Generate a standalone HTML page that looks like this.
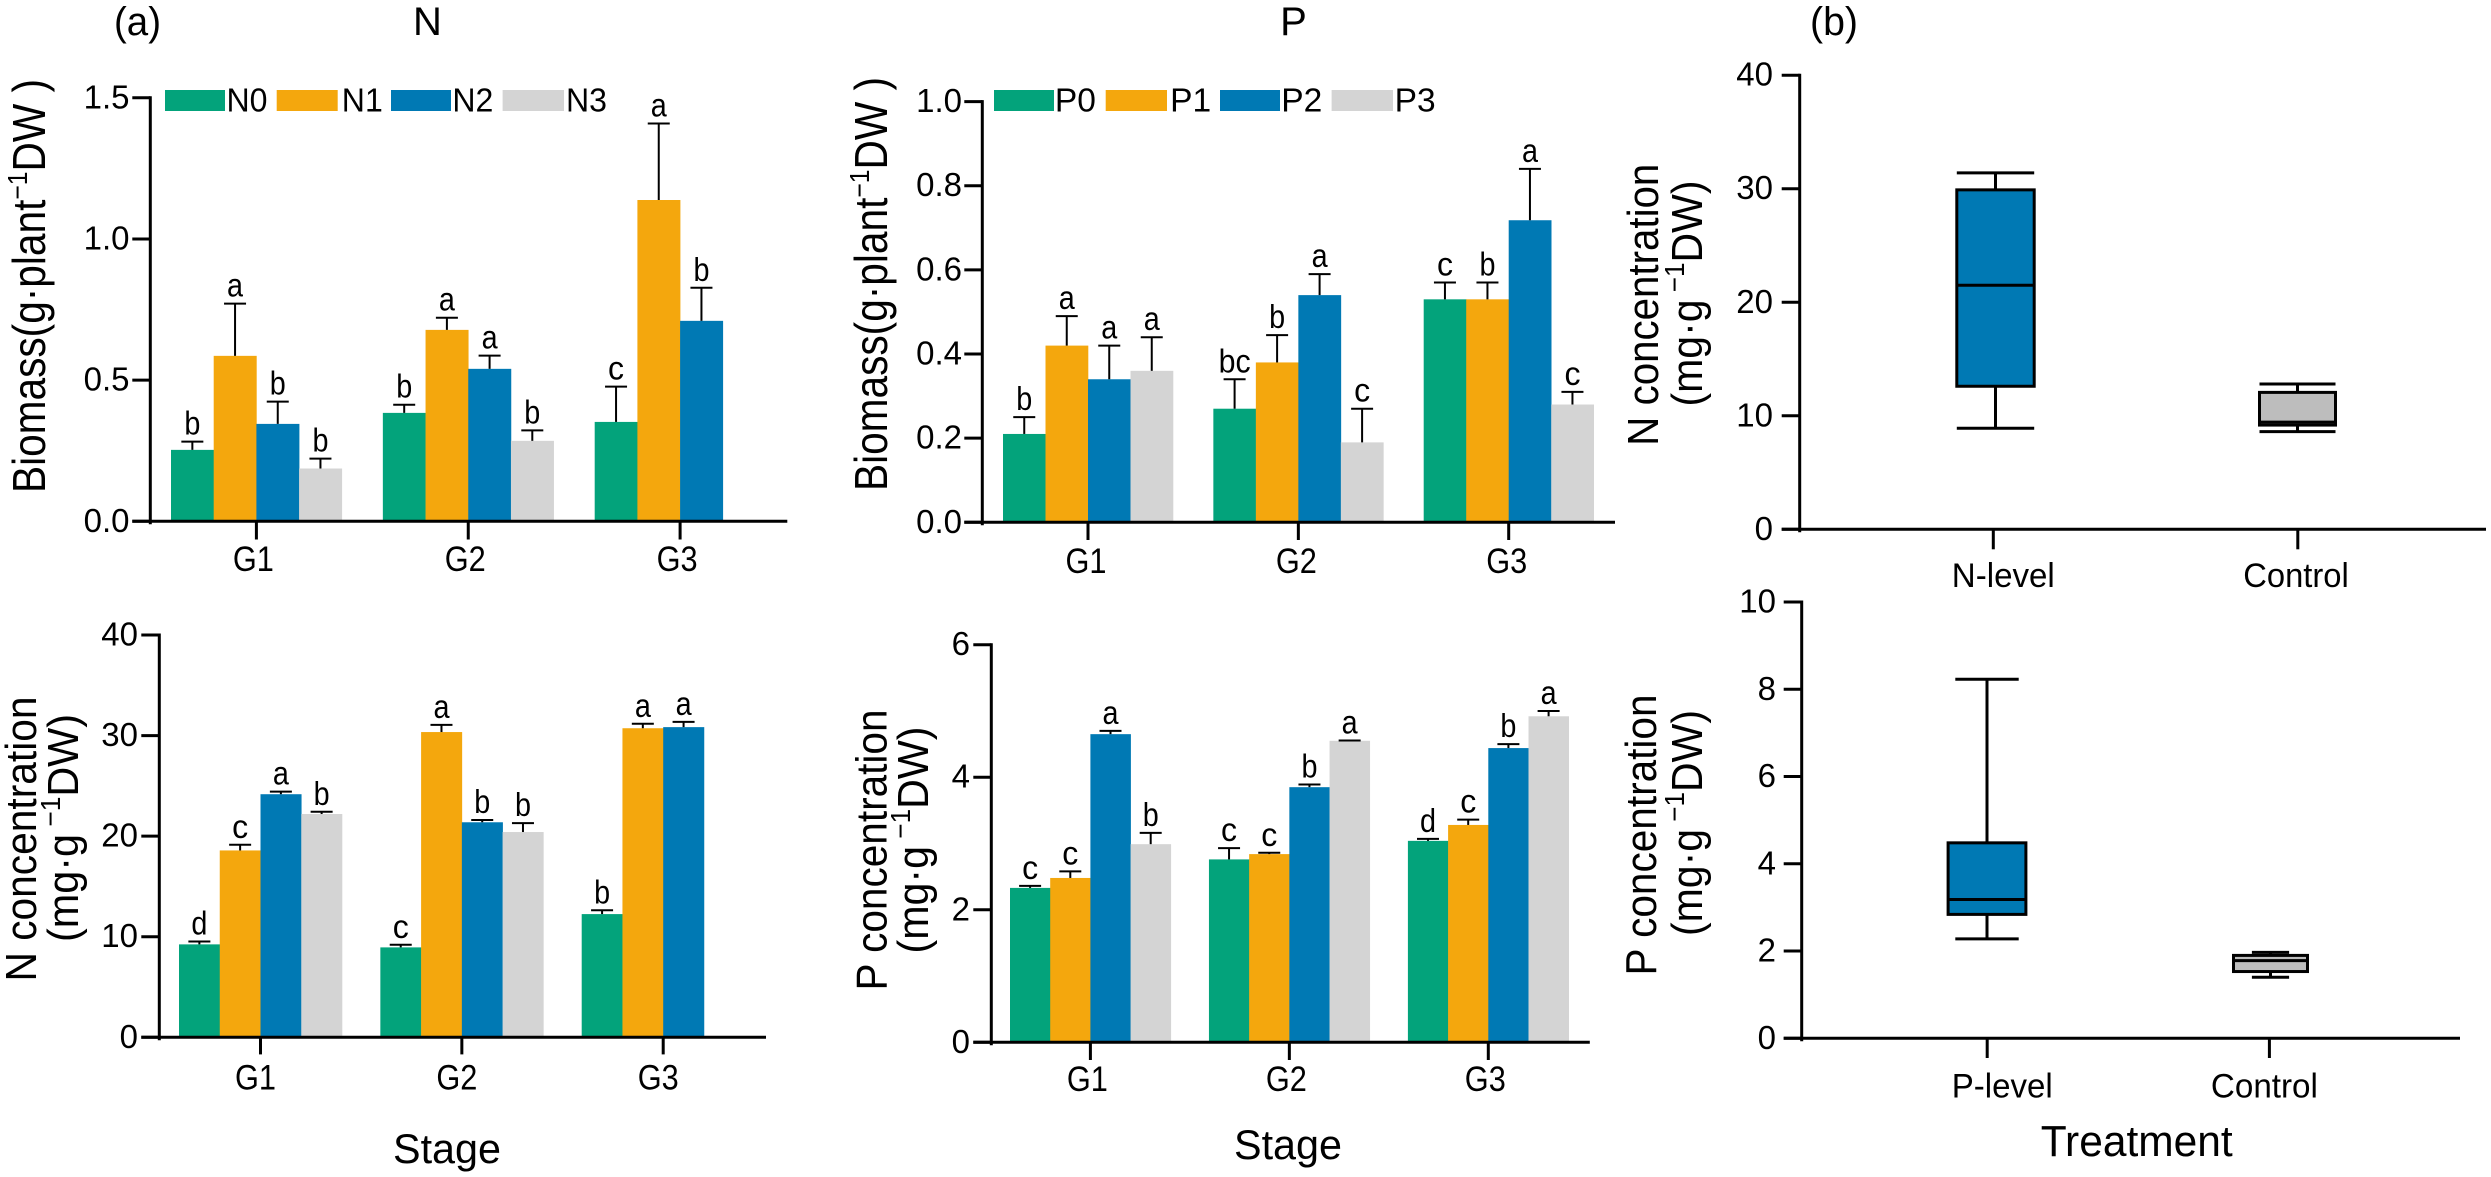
<!DOCTYPE html>
<html lang="en">
<head>
<meta charset="utf-8">
<title>Biomass and nutrient concentration charts</title>
<style>
html,body{margin:0;padding:0;background:#fff;}
svg{display:block;font-family:"Liberation Sans",Arial,sans-serif;fill:#000;}
</style>
</head>
<body>
<svg id="figure" width="2491" height="1177" viewBox="0 0 2491 1177" xmlns="http://www.w3.org/2000/svg">
  <text x="114" y="35" font-size="40" textLength="47" lengthAdjust="spacingAndGlyphs">(a)</text>
  <text x="427.5" y="35" font-size="40" text-anchor="middle">N</text>
  <text x="1293.5" y="35" font-size="40" text-anchor="middle">P</text>
  <text x="1810" y="35" font-size="40" textLength="48" lengthAdjust="spacingAndGlyphs">(b)</text>

  <text transform="translate(45 286) rotate(-90)" font-size="46" text-anchor="middle" textLength="414" lengthAdjust="spacingAndGlyphs">Biomass(g·plant<tspan font-size="28" dy="-18">−1</tspan><tspan dy="18">DW )</tspan></text>
  <text transform="translate(887 284) rotate(-90)" font-size="46" text-anchor="middle" textLength="414" lengthAdjust="spacingAndGlyphs">Biomass(g·plant<tspan font-size="28" dy="-18">−1</tspan><tspan dy="18">DW )</tspan></text>

  <text transform="translate(36 839) rotate(-90)" font-size="44" text-anchor="middle" textLength="285" lengthAdjust="spacingAndGlyphs">N concentration</text>
  <text transform="translate(78 828) rotate(-90)" font-size="44" text-anchor="middle" textLength="228" lengthAdjust="spacingAndGlyphs">(mg·g<tspan font-size="28" dy="-18"> −1</tspan><tspan dy="18">DW)</tspan></text>
  <text transform="translate(886.6 850) rotate(-90)" font-size="44" text-anchor="middle" textLength="281" lengthAdjust="spacingAndGlyphs">P concentration</text>
  <text transform="translate(928 840) rotate(-90)" font-size="44" text-anchor="middle" textLength="227" lengthAdjust="spacingAndGlyphs">(mg·g<tspan font-size="28" dy="-18"> −1</tspan><tspan dy="18">DW)</tspan></text>

  <text x="447" y="1163" font-size="42" text-anchor="middle" textLength="108" lengthAdjust="spacingAndGlyphs">Stage</text>
  <text x="1288" y="1159" font-size="42" text-anchor="middle" textLength="108" lengthAdjust="spacingAndGlyphs">Stage</text>

  <text transform="translate(1657.8 304.7) rotate(-90)" font-size="44" text-anchor="middle" textLength="282" lengthAdjust="spacingAndGlyphs">N concentration</text>
  <text transform="translate(1702 293.5) rotate(-90)" font-size="44" text-anchor="middle" textLength="226" lengthAdjust="spacingAndGlyphs">(mg·g<tspan font-size="28" dy="-18"> −1</tspan><tspan dy="18">DW)</tspan></text>
  <text transform="translate(1656 835) rotate(-90)" font-size="44" text-anchor="middle" textLength="281" lengthAdjust="spacingAndGlyphs">P concentration</text>
  <text transform="translate(1702 823) rotate(-90)" font-size="44" text-anchor="middle" textLength="226" lengthAdjust="spacingAndGlyphs">(mg·g<tspan font-size="28" dy="-18"> −1</tspan><tspan dy="18">DW)</tspan></text>
  <text x="2136.7" y="1156" font-size="44" text-anchor="middle" textLength="192" lengthAdjust="spacingAndGlyphs">Treatment</text>
</svg>
<script>
var stages = ["G1", "G2", "G3"];
var nLevels = ["N0", "N1", "N2", "N3"];
var pLevels = ["P0", "P1", "P2", "P3"];

var nBiomassTickValues = [0, 0.5, 1, 1.5];
var nBiomassTickLabels = ["0.0", "0.5", "1.0", "1.5"];
var nBiomassMeans = [
  [0.253, 0.384, 0.352],
  [0.586, 0.678, 1.138],
  [0.345, 0.540, 0.710],
  [0.187, 0.285, null]
];
var nBiomassErrorTops = [
  [0.282, 0.413, 0.477],
  [0.771, 0.721, 1.409],
  [0.424, 0.587, 0.827],
  [0.222, 0.322, null]
];
var nBiomassLetters = [
  ["b", "b", "c"],
  ["a", "a", "a"],
  ["b", "a", "b"],
  ["b", "b", ""]
];

var pBiomassTickValues = [0, 0.2, 0.4, 0.6, 0.8, 1];
var pBiomassTickLabels = ["0.0", "0.2", "0.4", "0.6", "0.8", "1.0"];
var pBiomassMeans = [
  [0.21, 0.27, 0.53],
  [0.42, 0.38, 0.53],
  [0.34, 0.54, 0.718],
  [0.36, 0.19, 0.28]
];
var pBiomassErrorTops = [
  [0.25, 0.34, 0.57],
  [0.49, 0.445, 0.57],
  [0.42, 0.59, 0.84],
  [0.44, 0.27, 0.31]
];
var pBiomassLetters = [
  ["b", "bc", "c"],
  ["a", "b", "b"],
  ["a", "a", "a"],
  ["a", "c", "c"]
];

var nConcTickValues = [0, 10, 20, 30, 40];
var nConcTickLabels = ["0", "10", "20", "30", "40"];
var nConcMeans = [
  [9.24, 8.94, 12.25],
  [18.58, 30.35, 30.73],
  [24.17, 21.38, 30.84],
  [22.2, 20.41, null]
];
var nConcErrorTops = [
  [9.53, 9.2, 12.63],
  [19.14, 31.06, 31.17],
  [24.43, 21.6, 31.36],
  [22.42, 21.3, null]
];
var nConcLetters = [
  ["d", "c", "b"],
  ["c", "a", "a"],
  ["a", "b", "a"],
  ["b", "b", ""]
];

var pConcTickValues = [0, 2, 4, 6];
var pConcTickLabels = ["0", "2", "4", "6"];
var pConcMeans = [
  [2.33, 2.76, 3.04],
  [2.48, 2.84, 3.28],
  [4.65, 3.85, 4.44],
  [2.99, 4.55, 4.92]
];
var pConcErrorTops = [
  [2.36, 2.93, 3.07],
  [2.58, 2.86, 3.36],
  [4.70, 3.89, 4.50],
  [3.16, 4.555, 5.00]
];
var pConcLetters = [
  ["c", "c", "d"],
  ["c", "c", "c"],
  ["a", "b", "b"],
  ["b", "a", "a"]
];

var nBoxCategories = ["N-level", "Control"];
var nBoxTickValues = [0, 10, 20, 30, 40];
var nBoxTickLabels = ["0", "10", "20", "30", "40"];
var nBoxWhiskerHigh = [31.4, 12.8];
var nBoxQ3 = [29.9, 12.06];
var nBoxMedian = [21.5, 9.44];
var nBoxQ1 = [12.6, 9.18];
var nBoxWhiskerLow = [8.9, 8.6];

var pBoxCategories = ["P-level", "Control"];
var pBoxTickValues = [0, 2, 4, 6, 8, 10];
var pBoxTickLabels = ["0", "2", "4", "6", "8", "10"];
var pBoxWhiskerHigh = [8.23, 1.97];
var pBoxQ3 = [4.48, 1.9];
var pBoxMedian = [3.18, 1.78];
var pBoxQ1 = [2.84, 1.53];
var pBoxWhiskerLow = [2.28, 1.4];

var NS = "http://www.w3.org/2000/svg";
var svg = document.getElementById("figure");
var seriesColors = ["#03a37b", "#f4a70d", "#0079b4", "#d4d4d4"];
var boxColors = ["#0079b4", "#bdbdbd"];

function make(tag, attrs, parent) {
  var node = document.createElementNS(NS, tag);
  for (var key in attrs) node.setAttribute(key, attrs[key]);
  parent.appendChild(node);
  return node;
}
function line(parent, x1, y1, x2, y2, width) {
  return make("line", {x1: x1, y1: y1, x2: x2, y2: y2, stroke: "#000", "stroke-width": width}, parent);
}
function label(parent, x, y, str, size, anchor, fit) {
  var t = make("text", {x: x, y: y, "font-size": size, "text-anchor": anchor}, parent);
  if (fit) {
    t.setAttribute("textLength", fit);
    t.setAttribute("lengthAdjust", "spacingAndGlyphs");
  }
  t.textContent = str;
  return t;
}

function drawYAxis(group, cfg, y) {
  var axis = line(group, cfg.axisX, cfg.yTop - 1.5, cfg.axisX, cfg.yZero + 3, 3);
  
  
  cfg.tickValues.forEach(function (v, i) {
    var tick = line(group, cfg.axisX - 18, y(v), cfg.axisX, y(v), 3);
    
    
    var text = label(group, cfg.tickLabelRight, y(v) + 10.5, cfg.tickLabels[i], 33, "end");
    
    
  });
}
function drawXAxisLine(group, cfg) {
  var axis = line(group, cfg.axisX - 18, cfg.yZero, cfg.axisEnd, cfg.yZero, 3);
  
  
}

function drawBarChart(cfg) {
  var group = make("g", {}, svg);
  
  
  var y = function (v) { return cfg.yZero - v / cfg.yMax * (cfg.yZero - cfg.yTop); };
  var x = function (g, s) { return cfg.start + g * cfg.step + s * cfg.barWidth; };

  cfg.means.forEach(function (seriesValues, s) {
    seriesValues.forEach(function (v, g) {
      if (v === null) return;
      var bx = x(g, s);
      var top = y(v);
      var errTop = y(cfg.errorTops[s][g]);
      var cx = bx + cfg.barWidth / 2;
      var bar = make("rect", {x: bx, y: top, width: cfg.barWidth + 0.3, height: cfg.yZero - top, fill: seriesColors[s]}, group);
      
      
      var stem = line(group, cx, top, cx, errTop, 2);
      
      
      var cap = line(group, cx - 11, errTop, cx + 11, errTop, 2);
      
      
      var str = cfg.letters[s][g];
      var letter = label(group, cx, errTop - 7, str, 33, "middle", str.length * 16);
      
      
    });
  });

  drawYAxis(group, cfg, y);
  drawXAxisLine(group, cfg);

  stages.forEach(function (stage, g) {
    var tx = cfg.start + g * cfg.step + 2 * cfg.barWidth;
    var tick = line(group, tx, cfg.yZero, tx, cfg.tickBottom, 3);
    
    
    var text = label(group, tx + cfg.labelShift, cfg.xLabelY, stage, 35, "middle", 41);
    
    
  });

  if (cfg.legendX) {
    cfg.series.forEach(function (nameText, s) {
      var swatch = make("rect", {x: cfg.legendX[s], y: 90, width: cfg.legendW[s], height: 21, fill: seriesColors[s]}, group);
      
      
      var entry = label(group, cfg.legendTextX[s], 111.5, nameText, 33, "start", 41);
      
      
    });
  }
}

function drawBoxChart(cfg) {
  var group = make("g", {}, svg);
  
  
  var y = function (v) { return cfg.yZero - v / cfg.yMax * (cfg.yZero - cfg.yTop); };

  cfg.categories.forEach(function (cat, i) {
    var cx = cfg.centers[i];
    var half = cfg.boxHalf[i];
    var capHalf = cfg.capHalf[i];
    var stemHigh = line(group, cx, y(cfg.high[i]), cx, y(cfg.q3[i]), 3);
    
    
    var stemLow = line(group, cx, y(cfg.q1[i]), cx, y(cfg.low[i]), 3);
    
    
    var capHigh = line(group, cx - capHalf, y(cfg.high[i]), cx + capHalf, y(cfg.high[i]), 3);
    
    
    var capLow = line(group, cx - capHalf, y(cfg.low[i]), cx + capHalf, y(cfg.low[i]), 3);
    
    
    var box = make("rect", {x: cx - half, y: y(cfg.q3[i]), width: half * 2, height: y(cfg.q1[i]) - y(cfg.q3[i]), fill: boxColors[i], stroke: "#000", "stroke-width": 3}, group);
    
    
    var med = line(group, cx - half, y(cfg.median[i]), cx + half, y(cfg.median[i]), 3);
    
    
    var tick = line(group, cfg.tickX[i], cfg.yZero, cfg.tickX[i], cfg.tickBottom, 3);
    
    
    var text = label(group, cfg.labelX[i], cfg.xLabelY, cat, 34, "middle", cfg.labelFit[i]);
    
    
  });

  drawYAxis(group, cfg, y);
  drawXAxisLine(group, cfg);
}

drawBarChart({
  name: "n-biomass-chart", series: nLevels, means: nBiomassMeans, errorTops: nBiomassErrorTops, letters: nBiomassLetters,
  tickValues: nBiomassTickValues, tickLabels: nBiomassTickLabels, yMax: 1.5,
  yTop: 97.8, yZero: 521.3, axisX: 150.3, axisEnd: 787.3, tickLabelRight: 129.5, tickBottom: 539.5, xLabelY: 571, labelShift: -3,
  start: 171, step: 211.85, barWidth: 42.7,
  legendX: [165, 276.7, 391, 502.6], legendW: [60, 61, 60, 61.4], legendTextX: [226.5, 341.8, 452.4, 566]
});
drawBarChart({
  name: "p-biomass-chart", series: pLevels, means: pBiomassMeans, errorTops: pBiomassErrorTops, letters: pBiomassLetters,
  tickValues: pBiomassTickValues, tickLabels: pBiomassTickLabels, yMax: 1,
  yTop: 101.6, yZero: 522.3, axisX: 982.3, axisEnd: 1615, tickLabelRight: 962, tickBottom: 540, xLabelY: 573, labelShift: -2,
  start: 1003, step: 210.35, barWidth: 42.5,
  legendX: [994, 1105.7, 1220, 1331.6], legendW: [60, 61.3, 60, 61.4], legendTextX: [1054.9, 1170.2, 1281.3, 1394.6]
});
drawBarChart({
  name: "n-concentration-chart", series: nLevels, means: nConcMeans, errorTops: nConcErrorTops, letters: nConcLetters,
  tickValues: nConcTickValues, tickLabels: nConcTickLabels, yMax: 40,
  yTop: 635, yZero: 1037.3, axisX: 159.3, axisEnd: 766, tickLabelRight: 138, tickBottom: 1054.4, xLabelY: 1089.5, labelShift: -5,
  start: 179, step: 201.35, barWidth: 40.75
});
drawBarChart({
  name: "p-concentration-chart", series: pLevels, means: pConcMeans, errorTops: pConcErrorTops, letters: pConcLetters,
  tickValues: pConcTickValues, tickLabels: pConcTickLabels, yMax: 6,
  yTop: 644.7, yZero: 1042.3, axisX: 991.3, axisEnd: 1589.8, tickLabelRight: 970, tickBottom: 1060, xLabelY: 1091, labelShift: -3,
  start: 1010, step: 198.95, barWidth: 40.2
});
drawBoxChart({
  name: "n-box-chart", categories: nBoxCategories, high: nBoxWhiskerHigh, q3: nBoxQ3, median: nBoxMedian, q1: nBoxQ1, low: nBoxWhiskerLow,
  tickValues: nBoxTickValues, tickLabels: nBoxTickLabels, yMax: 40,
  yTop: 75.2, yZero: 529.3, axisX: 1799.7, axisEnd: 2486, tickLabelRight: 1773, tickBottom: 549.3, xLabelY: 587,
  centers: [1995.5, 2297.5], tickX: [1993.3, 2297.8], boxHalf: [38.7, 38], capHalf: [38.7, 38], labelX: [2003.3, 2296], labelFit: [103, 105.5]
});
drawBoxChart({
  name: "p-box-chart", categories: pBoxCategories, high: pBoxWhiskerHigh, q3: pBoxQ3, median: pBoxMedian, q1: pBoxQ1, low: pBoxWhiskerLow,
  tickValues: pBoxTickValues, tickLabels: pBoxTickLabels, yMax: 10,
  yTop: 602, yZero: 1038.3, axisX: 1801.7, axisEnd: 2460, tickLabelRight: 1776, tickBottom: 1058, xLabelY: 1097.5,
  centers: [1987, 2270.5], tickX: [1987.2, 2269.4], boxHalf: [38.9, 37], capHalf: [31.7, 18.6], labelX: [2002.2, 2264.4], labelFit: [101, 107]
});
</script>
</body>
</html>
